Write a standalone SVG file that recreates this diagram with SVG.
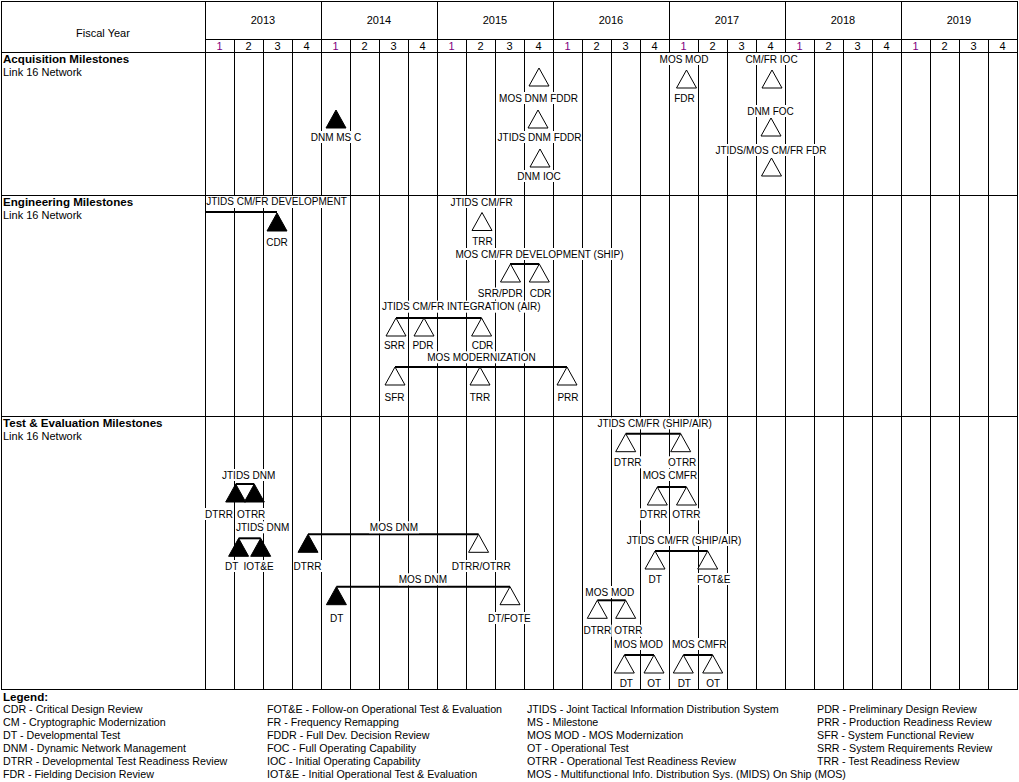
<svg xmlns="http://www.w3.org/2000/svg" xmlns:xlink="http://www.w3.org/1999/xlink" width="1019" height="782" viewBox="0 0 1019 782">
<style>
text{font-family:"Liberation Sans",Arial,sans-serif;fill:#000}
.hd{font-size:11px;text-anchor:middle}
.q1{fill:#800080}
.ttl{font-size:11.6px;font-weight:bold}
.sub{font-size:11px}
.lb{font-size:10px;text-anchor:middle}
.lg{font-size:10.7px}
.bg{fill:#fff}
.g{stroke:#000;stroke-width:1;fill:none}
.c{stroke:#000;stroke-width:2;fill:none}
.h{fill:#fff;stroke:#000;stroke-width:1}
.f{fill:#000;stroke:#000;stroke-width:1}
</style>
<defs>
<path id="t" d="M0,0 L10,18 L-10,18 Z"/>
</defs>
<rect width="1019" height="782" fill="#fff"/>
<g id="grid" class="g">
<rect x="1.5" y="1.5" width="1016" height="688"/>
<path d="M205,39.5H1017M1,52.5H1017M1,195.5H1017M1,416.5H1017"/>
<path d="M205.5,1V689M321.5,1V689M437.5,1V689M553.5,1V689M669.5,1V689M785.5,1V689M901.5,1V689"/>
<path d="M234.5,39V689M263.5,39V689M292.5,39V689M350.5,39V689M379.5,39V689M408.5,39V689M466.5,39V689M495.5,39V689M524.5,39V689M582.5,39V689M611.5,39V689M640.5,39V689M698.5,39V689M727.5,39V689M756.5,39V689M814.5,39V689M843.5,39V689M872.5,39V689M930.5,39V689M959.5,39V689M988.5,39V689"/>
</g>
<g id="header">
<text class="hd" x="103" y="37">Fiscal Year</text>
<text class="hd" x="263" y="24">2013</text>
<text class="hd" x="379" y="24">2014</text>
<text class="hd" x="495" y="24">2015</text>
<text class="hd" x="611" y="24">2016</text>
<text class="hd" x="727" y="24">2017</text>
<text class="hd" x="843" y="24">2018</text>
<text class="hd" x="959" y="24">2019</text>
<g class="hd">
<text class="hd q1" x="219.5" y="50">1</text><text class="hd" x="248.5" y="50">2</text><text class="hd" x="277.5" y="50">3</text><text class="hd" x="306.5" y="50">4</text>
<text class="hd q1" x="335.5" y="50">1</text><text class="hd" x="364.5" y="50">2</text><text class="hd" x="393.5" y="50">3</text><text class="hd" x="422.5" y="50">4</text>
<text class="hd q1" x="451.5" y="50">1</text><text class="hd" x="480.5" y="50">2</text><text class="hd" x="509.5" y="50">3</text><text class="hd" x="538.5" y="50">4</text>
<text class="hd q1" x="567.5" y="50">1</text><text class="hd" x="596.5" y="50">2</text><text class="hd" x="625.5" y="50">3</text><text class="hd" x="654.5" y="50">4</text>
<text class="hd q1" x="683.5" y="50">1</text><text class="hd" x="712.5" y="50">2</text><text class="hd" x="741.5" y="50">3</text><text class="hd" x="770.5" y="50">4</text>
<text class="hd q1" x="799.5" y="50">1</text><text class="hd" x="828.5" y="50">2</text><text class="hd" x="857.5" y="50">3</text><text class="hd" x="886.5" y="50">4</text>
<text class="hd q1" x="915.5" y="50">1</text><text class="hd" x="944.5" y="50">2</text><text class="hd" x="973.5" y="50">3</text><text class="hd" x="1002.5" y="50">4</text>
</g>
<text class="ttl" x="3" y="63">Acquisition Milestones</text>
<text class="sub" x="3" y="76">Link 16 Network</text>
<text class="ttl" x="3" y="206">Engineering Milestones</text>
<text class="sub" x="3" y="219">Link 16 Network</text>
<text class="ttl" x="3" y="427.3">Test &amp; Evaluation Milestones</text>
<text class="sub" x="3" y="440.3">Link 16 Network</text>
</g>
<g id="connectors" class="c">
<path d="M205,212H277"/>
<path d="M510,264H539.3"/>
<path d="M396,318H481.6"/>
<path d="M395,367H567"/>
<path d="M235.7,484H254.3"/>
<path d="M238.6,538.3H260.7"/>
<path d="M308,534.3H478.6"/>
<path d="M336.4,586.7H510"/>
<path d="M625.7,433.7H680.7"/>
<path d="M657.3,487H686.5"/>
<path d="M655,551H707.7"/>
<path d="M597.3,600.3H625.7"/>
<path d="M624.3,655H654"/>
<path d="M683.3,655H712.7"/>
</g>
<g id="acq">
<g id="n-dnm-msc"><use xlink:href="#t" class="f" x="336" y="110"/><rect class="bg" x="310" y="131" width="52" height="12"/><text class="lb" x="336" y="140.6">DNM MS C</text></g>
<g id="n-mos-dnm-fddr"><use xlink:href="#t" class="h" x="539" y="68"/><rect class="bg" x="498" y="92" width="81" height="12"/><text class="lb" x="538.5" y="101.6">MOS DNM FDDR</text></g>
<g id="n-jtids-dnm-fddr"><use xlink:href="#t" class="h" x="538" y="110"/><rect class="bg" x="497" y="131" width="85" height="12"/><text class="lb" x="539.5" y="140.6">JTIDS DNM FDDR</text></g>
<g id="n-dnm-ioc"><use xlink:href="#t" class="h" x="540" y="149"/><rect class="bg" x="517" y="170" width="44" height="12"/><text class="lb" x="539" y="179.6">DNM IOC</text></g>
<g id="n-mos-mod-fdr"><rect class="bg" x="659" y="53" width="50" height="12"/><text class="lb" x="684" y="62.6">MOS MOD</text><use xlink:href="#t" class="h" x="686.5" y="70"/><rect class="bg" x="673" y="92" width="23" height="12"/><text class="lb" x="684.5" y="101.6">FDR</text></g>
<g id="n-cmfr-ioc"><rect class="bg" x="745" y="53" width="53" height="12"/><text class="lb" x="771.5" y="62.6">CM/FR IOC</text><use xlink:href="#t" class="h" x="772" y="70"/></g>
<g id="n-dnm-foc"><rect class="bg" x="747" y="105" width="47" height="12"/><text class="lb" x="770.5" y="114.6">DNM FOC</text><use xlink:href="#t" class="h" x="771" y="118"/></g>
<g id="n-jtids-mos-fdr"><rect class="bg" x="715" y="144" width="112" height="12"/><text class="lb" x="771" y="153.6">JTIDS/MOS CM/FR FDR</text><use xlink:href="#t" class="h" x="771.5" y="158"/></g>
</g>
<g id="eng">
<g id="n-jtids-dev"><rect class="bg" x="206" y="196" width="141" height="12"/><text class="lb" x="276.5" y="205.4">JTIDS CM/FR DEVELOPMENT</text><use xlink:href="#t" class="f" x="277" y="213"/><rect class="bg" x="265" y="236" width="24" height="12"/><text class="lb" x="277" y="245.6">CDR</text></g>
<g id="n-jtids-trr"><rect class="bg" x="450" y="196" width="63" height="12"/><text class="lb" x="481.5" y="205.6">JTIDS CM/FR</text><use xlink:href="#t" class="h" x="482" y="212.5"/><rect class="bg" x="471" y="235" width="23" height="12"/><text class="lb" x="482.5" y="244.6">TRR</text></g>
<g id="n-mos-dev"><rect class="bg" x="455" y="248" width="169" height="12"/><text class="lb" x="539.5" y="257.6">MOS CM/FR DEVELOPMENT (SHIP)</text>
<use xlink:href="#t" class="h" x="510.5" y="264"/><use xlink:href="#t" class="h" x="539.3" y="264"/>
<rect class="bg" x="477" y="287.5" width="46" height="12"/><text class="lb" x="500.3" y="297.1">SRR/PDR</text>
<rect class="bg" x="529.5" y="287.5" width="22" height="12"/><text class="lb" x="540.5" y="297.1">CDR</text></g>
<g id="n-jtids-int"><rect class="bg" x="380.5" y="300.7" width="161.5" height="12"/><text class="lb" x="461.3" y="310.3">JTIDS CM/FR INTEGRATION (AIR)</text>
<use xlink:href="#t" class="h" x="396" y="318"/><use xlink:href="#t" class="h" x="424" y="318"/><use xlink:href="#t" class="h" x="481.6" y="318"/>
<rect class="bg" x="383" y="339.3" width="23" height="12"/><text class="lb" x="394.5" y="348.9">SRR</text>
<rect class="bg" x="412" y="339.3" width="22" height="12"/><text class="lb" x="423" y="348.9">PDR</text>
<rect class="bg" x="471" y="339.3" width="23" height="12"/><text class="lb" x="482.5" y="348.9">CDR</text></g>
<g id="n-mos-modern"><rect class="bg" x="426" y="351.3" width="111" height="12"/><text class="lb" x="481.5" y="360.9">MOS MODERNIZATION</text>
<use xlink:href="#t" class="h" x="395" y="367"/><use xlink:href="#t" class="h" x="480" y="367"/><use xlink:href="#t" class="h" x="567" y="367"/>
<rect class="bg" x="384" y="391.3" width="21" height="12"/><text class="lb" x="394.5" y="400.9">SFR</text>
<rect class="bg" x="469.5" y="391.3" width="21" height="12"/><text class="lb" x="480" y="400.9">TRR</text>
<rect class="bg" x="557" y="391.3" width="22" height="12"/><text class="lb" x="568" y="400.9">PRR</text></g>
</g>
<g id="te">
<g id="n-jtids-dnm-1"><rect class="bg" x="222" y="469" width="53" height="12"/><text class="lb" x="248.7" y="478.6">JTIDS DNM</text>
<use xlink:href="#t" class="f" x="235.7" y="484"/><use xlink:href="#t" class="f" x="254.3" y="484"/>
<rect class="bg" x="205" y="508" width="28" height="12"/><text class="lb" x="219" y="517.6">DTRR</text>
<rect class="bg" x="236.5" y="508" width="29.5" height="12"/><text class="lb" x="251.2" y="517.6">OTRR</text></g>
<g id="n-jtids-dnm-2"><rect class="bg" x="236.5" y="521.3" width="52.5" height="12"/><text class="lb" x="262.7" y="530.9">JTIDS DNM</text>
<use xlink:href="#t" class="f" x="238.6" y="538.3"/><use xlink:href="#t" class="f" x="260.7" y="538.3"/>
<rect class="bg" x="224.7" y="560" width="14" height="12"/><text class="lb" x="231.6" y="569.6">DT</text>
<rect class="bg" x="243" y="560" width="31" height="12"/><text class="lb" x="258.6" y="569.6">IOT&amp;E</text></g>
<g id="n-mos-dnm-1"><rect class="bg" x="369" y="521.3" width="50" height="12"/><text class="lb" x="394" y="530.9">MOS DNM</text>
<use xlink:href="#t" class="f" x="308" y="534.3"/><use xlink:href="#t" class="h" x="478.6" y="534.3"/>
<rect class="bg" x="293" y="560" width="29" height="12"/><text class="lb" x="307.5" y="569.6">DTRR</text>
<rect class="bg" x="451.5" y="560" width="59.5" height="12"/><text class="lb" x="481.2" y="569.6">DTRR/OTRR</text></g>
<g id="n-mos-dnm-2"><rect class="bg" x="398" y="573.3" width="49" height="12"/><text class="lb" x="422.8" y="582.9">MOS DNM</text>
<use xlink:href="#t" class="f" x="336.4" y="586.7"/><use xlink:href="#t" class="h" x="510" y="586.7"/>
<rect class="bg" x="329" y="612" width="15" height="12"/><text class="lb" x="336.6" y="621.6">DT</text>
<rect class="bg" x="487.6" y="612" width="43.4" height="12"/><text class="lb" x="509.3" y="621.6">DT/FOTE</text></g>
<g id="n-jtids-shipair-1"><rect class="bg" x="596.7" y="417.3" width="116" height="12"/><text class="lb" x="654.7" y="426.9">JTIDS CM/FR (SHIP/AIR)</text>
<use xlink:href="#t" class="h" x="625.7" y="433.7"/><use xlink:href="#t" class="h" x="680.7" y="433.7"/>
<rect class="bg" x="613.3" y="456.3" width="28.7" height="12"/><text class="lb" x="627.7" y="465.9">DTRR</text>
<rect class="bg" x="667.3" y="456.3" width="29.7" height="12"/><text class="lb" x="682.2" y="465.9">OTRR</text></g>
<g id="n-mos-cmfr-1"><rect class="bg" x="642.3" y="469" width="55.4" height="12"/><text class="lb" x="670" y="478.6">MOS CMFR</text>
<use xlink:href="#t" class="h" x="657.3" y="487"/><use xlink:href="#t" class="h" x="686.5" y="487"/>
<rect class="bg" x="639.7" y="508.3" width="28" height="12"/><text class="lb" x="653.7" y="517.9">DTRR</text>
<rect class="bg" x="671.7" y="508.3" width="29.3" height="12"/><text class="lb" x="686.3" y="517.9">OTRR</text></g>
<g id="n-jtids-shipair-2"><rect class="bg" x="626.3" y="534" width="115.4" height="12"/><text class="lb" x="684" y="543.6">JTIDS CM/FR (SHIP/AIR)</text>
<use xlink:href="#t" class="h" x="655" y="551"/><use xlink:href="#t" class="h" x="707.7" y="551"/>
<rect class="bg" x="648.3" y="573" width="13.7" height="12"/><text class="lb" x="655.2" y="582.6">DT</text>
<rect class="bg" x="696.3" y="573" width="34.7" height="12"/><text class="lb" x="713.7" y="582.6">FOT&amp;E</text></g>
<g id="n-mos-mod-1"><rect class="bg" x="584.7" y="586" width="50.3" height="12"/><text class="lb" x="609.8" y="595.6">MOS MOD</text>
<use xlink:href="#t" class="h" x="597.3" y="600.3"/><use xlink:href="#t" class="h" x="625.7" y="600.3"/>
<rect class="bg" x="583" y="624.7" width="28.7" height="12"/><text class="lb" x="597.3" y="634.3">DTRR</text>
<rect class="bg" x="614" y="624.7" width="28.7" height="12"/><text class="lb" x="628.3" y="634.3">OTRR</text></g>
<g id="n-mos-mod-2"><rect class="bg" x="613.3" y="638" width="50.4" height="12"/><text class="lb" x="638.5" y="647.6">MOS MOD</text>
<use xlink:href="#t" class="h" x="624.3" y="655"/><use xlink:href="#t" class="h" x="654" y="655"/>
<rect class="bg" x="619.5" y="677.3" width="13.6" height="11.5"/><text class="lb" x="626.3" y="686.9">DT</text>
<rect class="bg" x="647.3" y="677.3" width="14" height="11.5"/><text class="lb" x="654.3" y="686.9">OT</text></g>
<g id="n-mos-cmfr-2"><rect class="bg" x="671.7" y="638" width="55" height="12"/><text class="lb" x="699.2" y="647.6">MOS CMFR</text>
<use xlink:href="#t" class="h" x="683.3" y="655"/><use xlink:href="#t" class="h" x="712.7" y="655"/>
<rect class="bg" x="677.5" y="677.3" width="13.6" height="11.5"/><text class="lb" x="684.3" y="686.9">DT</text>
<rect class="bg" x="706.3" y="677.3" width="14" height="11.5"/><text class="lb" x="713.3" y="686.9">OT</text></g>
</g>
<g id="legend" class="lg">
<text x="3" y="700.7" style="font-size:11.6px;font-weight:bold">Legend:</text>
<text class="lg" x="3" y="713.3">CDR - Critical Design Review</text>
<text class="lg" x="3" y="726.3">CM - Cryptographic Modernization</text>
<text class="lg" x="3" y="739.3">DT - Developmental Test</text>
<text class="lg" x="3" y="752.3">DNM - Dynamic Network Management</text>
<text class="lg" x="3" y="765.3">DTRR - Developmental Test Readiness Review</text>
<text class="lg" x="3" y="778.3">FDR - Fielding Decision Review</text>
<text class="lg" x="267" y="713.3">FOT&amp;E - Follow-on Operational Test &amp; Evaluation</text>
<text class="lg" x="267" y="726.3">FR - Frequency Remapping</text>
<text class="lg" x="267" y="739.3">FDDR - Full Dev. Decision Review</text>
<text class="lg" x="267" y="752.3">FOC - Full Operating Capability</text>
<text class="lg" x="267" y="765.3">IOC - Initial Operating Capability</text>
<text class="lg" x="267" y="778.3">IOT&amp;E - Initial Operational Test &amp; Evaluation</text>
<text class="lg" x="527" y="713.3">JTIDS - Joint Tactical Information Distribution System</text>
<text class="lg" x="527" y="726.3">MS - Milestone</text>
<text class="lg" x="527" y="739.3">MOS MOD - MOS Modernization</text>
<text class="lg" x="527" y="752.3">OT - Operational Test</text>
<text class="lg" x="527" y="765.3">OTRR - Operational Test Readiness Review</text>
<text class="lg" x="527" y="778.3">MOS - Multifunctional Info. Distribution Sys. (MIDS) On Ship (MOS)</text>
<text class="lg" x="817" y="713.3">PDR - Preliminary Design Review</text>
<text class="lg" x="817" y="726.3">PRR - Production Readiness Review</text>
<text class="lg" x="817" y="739.3">SFR - System Functional Review</text>
<text class="lg" x="817" y="752.3">SRR - System Requirements Review</text>
<text class="lg" x="817" y="765.3">TRR - Test Readiness Review</text>
</g>
</svg>
